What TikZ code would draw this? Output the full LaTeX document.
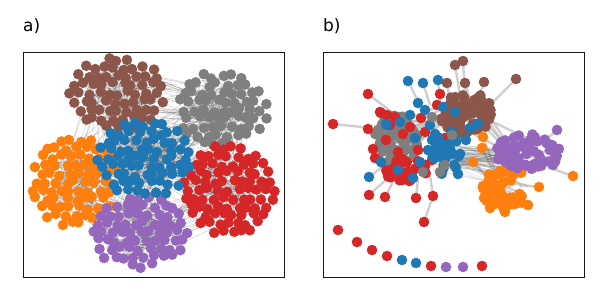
\documentclass[tikz,border=0pt]{standalone}
\usepackage{fontspec}
\setmainfont{DejaVu Sans}
\definecolor{tblue}{HTML}{1F77B4}
\definecolor{torange}{HTML}{FF7F0E}
\definecolor{tred}{HTML}{D62728}
\definecolor{tpurple}{HTML}{9467BD}
\definecolor{tbrown}{HTML}{8C564B}
\definecolor{tgray}{HTML}{7F7F7F}
% grid-packed cluster: cx cy rx ry colour
\newcommand\mkgrid[5]{%
  \foreach \ii in {-7,...,7}{\foreach \jj in {-7,...,7}{%
    \pgfmathsetmacro\myPx{#1+\ii*9.6+abs(mod(\jj,2))*4.8+rand*2.6}%
    \pgfmathsetmacro\myPy{#2+\jj*8.4+rand*2.6}%
    \pgfmathtruncatemacro\myIn{((\myPx-#1)/#3)^2+((\myPy-#2)/#4)^2<1 ? 1 : 0}%
    \ifnum\myIn=1 \fill[#5] (\myPx,\myPy) circle[dot];\fi
  }}}
% random cluster: cx cy rx ry n colour
\newcommand\mkblob[6]{%
  \foreach \k in {1,...,#5}{%
    \pgfmathsetmacro\myA{360*rnd}\pgfmathsetmacro\myR{sqrt(rnd)}%
    \fill[#6] ({#1+#3*\myR*cos(\myA)},{#2+#4*\myR*sin(\myA)}) circle[dot];
  }}
% random edges within a cluster
\newcommand\mkedges[6]{%
  \foreach \k in {1,...,#5}{%
    \pgfmathsetmacro\myA{360*rnd}\pgfmathsetmacro\myR{sqrt(rnd)}%
    \pgfmathsetmacro\myB{360*rnd}\pgfmathsetmacro\myS{sqrt(rnd)}%
    \draw[#6] ({#1+#3*\myR*cos(\myA)},{#2+#4*\myR*sin(\myA)}) -- ({#1+#3*\myS*cos(\myB)},{#2+#4*\myS*sin(\myB)});
  }}
% random edges between two clusters
\newcommand\mkbridge[8]{%
  \foreach \k in {1,...,#7}{%
    \pgfmathsetmacro\myA{360*rnd}\pgfmathsetmacro\myR{#3*sqrt(rnd)}%
    \pgfmathsetmacro\myB{360*rnd}\pgfmathsetmacro\myS{#6*sqrt(rnd)}%
    \draw[#8] ({#1+\myR*cos(\myA)},{#2+\myR*sin(\myA)}) -- ({#4+\myS*cos(\myB)},{#5+\myS*sin(\myB)});
  }}
\tikzset{
  aedge/.style={black!75, opacity=0.22, line width=0.6pt},
  bedge/.style={black!25, opacity=0.75, line width=2.4pt},
  bdark/.style={black!80, opacity=0.15, line width=0.5pt},
  frame/.style={draw=black!90, line width=1pt},
  lbl/.style={font=\fontsize{17}{20}\selectfont, anchor=base west, inner sep=0pt},
  dot/.style={radius=5.3pt}
}
\begin{document}
\begin{tikzpicture}[x=1pt,y=-1pt]
\useasboundingbox (0,0) rectangle (600,300);
\pgfmathsetseed{11}
\node[lbl] (la) at (23,31) {a)};
\node[lbl] (lb) at (323,31) {b)};
% ---------------- panel a ----------------
\mkedges{118}{93}{44}{32}{110}{aedge}
\mkedges{222}{110}{42}{34}{110}{aedge}
\mkedges{145}{158}{45}{34}{110}{aedge}
\mkedges{228}{190}{45}{40}{110}{aedge}
\mkedges{75}{182}{38}{42}{110}{aedge}
\mkedges{140}{232}{46}{32}{110}{aedge}
\mkbridge{118}{93}{35}{222}{110}{35}{30}{aedge}
\mkbridge{118}{93}{35}{145}{158}{35}{45}{aedge}
\mkbridge{222}{110}{35}{145}{158}{35}{45}{aedge}
\mkbridge{222}{110}{35}{228}{190}{35}{40}{aedge}
\mkbridge{145}{158}{35}{228}{190}{35}{50}{aedge}
\mkbridge{145}{158}{35}{75}{182}{35}{45}{aedge}
\mkbridge{145}{158}{35}{140}{232}{35}{45}{aedge}
\mkbridge{75}{182}{35}{140}{232}{35}{40}{aedge}
\mkbridge{228}{190}{35}{140}{232}{35}{30}{aedge}
\mkbridge{118}{93}{35}{75}{182}{35}{20}{aedge}
\mkgrid{118}{93}{49}{37}{tbrown}
\mkgrid{222}{110}{47}{39}{tgray}
\mkgrid{75}{182}{43}{47}{torange}
\mkgrid{140}{232}{51}{37}{tpurple}
\mkgrid{228}{190}{50}{45}{tred}
\mkgrid{145}{158}{50}{39}{tblue}
\draw[frame] (23,52) rectangle (284,277);
% ---------------- panel b ----------------
\mkedges{397}{143}{24}{27}{12}{bedge}
\mkedges{468}{113}{27}{20}{12}{bedge}
\mkedges{528}{152}{33}{18}{10}{bedge}
\mkedges{505}{185}{25}{22}{10}{bedge}
\mkbridge{470}{113}{18}{527}{150}{18}{6}{bedge}
\mkbridge{397}{143}{22}{468}{113}{18}{10}{bedge}
\foreach \x/\y/\c/\tx/\ty in {
  333/124/tred/372/128, 368/94/tred/393/113, 381/113/tred/395/125,
  368/129/tred/380/135, 373/149/tred/385/150, 369/195/tred/388/178,
  385/197/tred/395/178, 416/198/tred/418/178, 433/196/tred/430/175,
  424/222/tred/433/196, 440/94/tred/440/110,
  369/177/tblue/385/165, 408/81/tblue/420/105, 423/83/tblue/430/105,
  438/80/tblue/440/105, 386/124/tblue/400/130, 458/174/tblue/450/160,
  478/124/tblue/470/135,
  455/65/tbrown/460/95, 463/61/tbrown/465/95, 447/83/tbrown/450/100,
  465/83/tbrown/470/100, 484/82/tbrown/478/100, 516/79/tbrown/490/105,
  557/130/tpurple/540/145, 553/165/tpurple/535/155,
  483/137/torange/495/170, 482/148/torange/495/175, 473/162/torange/490/180,
  573/176/torange/547/167, 490/208/torange/500/195, 505/212/torange/505/195,
  539/187/torange/520/185, 528/205/torange/515/195}{
  \coordinate (o) at (\x,\y);
  \coordinate (t) at (\tx,\ty);
  \draw[bedge] (o) -- (t);
}
\mkbridge{452}{155}{13}{520}{157}{14}{80}{bdark}
\mkbridge{430}{155}{15}{505}{178}{12}{30}{bdark}
% dense blobs
\mkblob{395}{142}{23}{27}{75}{tgray}
\mkblob{408}{170}{24}{13}{36}{tred}
\foreach \x/\y in {387/115, 395/117, 380/112, 410/127, 425/132, 437/105,
  445/138, 432/160, 418/150, 403/134, 386/140, 398/152, 421/118, 375/158,
  390/125}{
  \fill[tred] (\x,\y) circle[dot];}
\mkblob{468}{114}{28}{21}{80}{tbrown}
\mkblob{446}{150}{15}{25}{28}{tblue}
\foreach \x/\y in {418/103, 425/110, 443/107, 410/115, 387/125, 430/125,
  455/112, 432/140, 420/162, 413/178, 466/140, 470/128, 400/122, 381/162,
  428/150, 415/138, 398/170}{
  \fill[tblue] (\x,\y) circle[dot];}
\foreach \x/\y in {432/117, 445/165, 440/172, 423/172, 452/135}{\fill[tgray] (\x,\y) circle[dot];}
\mkblob{505}{188}{24}{21}{55}{torange}
\mkblob{528}{152}{33}{18}{60}{tpurple}
% outlier dots
\foreach \x/\y/\c/\tx/\ty in {
  333/124/tred/372/128, 368/94/tred/393/113, 381/113/tred/395/125,
  368/129/tred/380/135, 373/149/tred/385/150, 369/195/tred/388/178,
  385/197/tred/395/178, 416/198/tred/418/178, 433/196/tred/430/175,
  424/222/tred/433/196, 440/94/tred/440/110,
  369/177/tblue/385/165, 408/81/tblue/420/105, 423/83/tblue/430/105,
  438/80/tblue/440/105, 386/124/tblue/400/130, 458/174/tblue/450/160,
  478/124/tblue/470/135,
  455/65/tbrown/460/95, 463/61/tbrown/465/95, 447/83/tbrown/450/100,
  465/83/tbrown/470/100, 484/82/tbrown/478/100, 516/79/tbrown/490/105,
  557/130/tpurple/540/145, 553/165/tpurple/535/155,
  483/137/torange/495/170, 482/148/torange/495/175, 473/162/torange/490/180,
  573/176/torange/547/167, 490/208/torange/500/195, 505/212/torange/505/195,
  539/187/torange/520/185, 528/205/torange/515/195}{
  \fill[\c] (\x,\y) circle[dot];
}
% isolated nodes
\foreach \x/\y/\c in {338/230/tred, 357/242/tred, 372/250/tred, 387/256/tred,
  402/260/tblue, 416/263/tblue, 431/266/tred, 446/267/tpurple,
  463/267/tpurple, 482/266/tred}{
  \fill[\c] (\x,\y) circle[dot];
}
\draw[frame] (323,52) rectangle (584,277);
\end{tikzpicture}
\end{document}
